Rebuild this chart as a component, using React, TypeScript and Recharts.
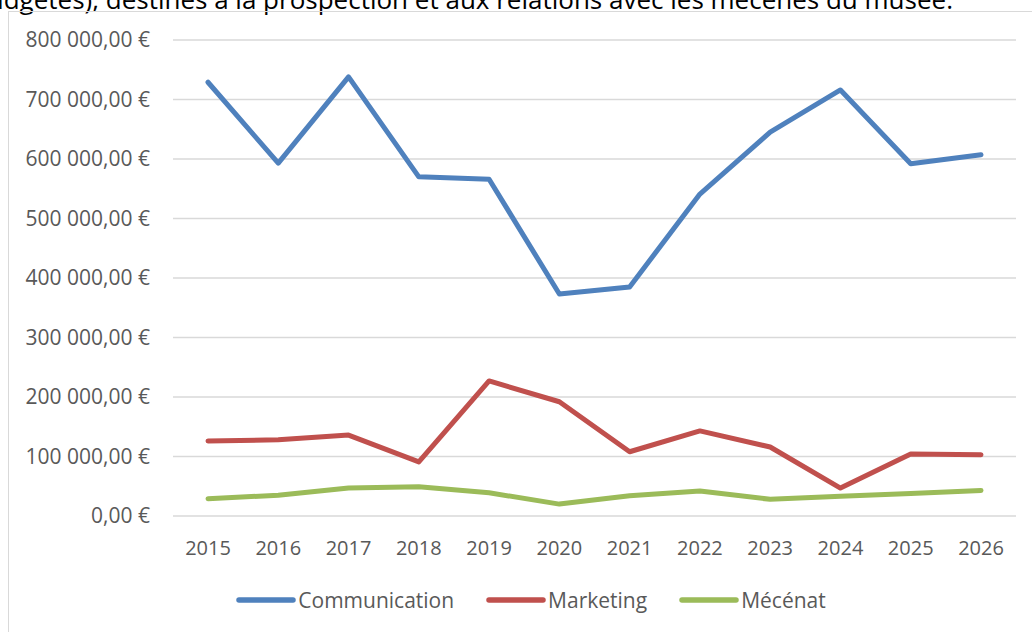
import React from "react";
import { LineChart, Line, XAxis, YAxis, CartesianGrid, Legend } from "recharts";

const years = ["2015", "2016", "2017", "2018", "2019", "2020", "2021", "2022", "2023", "2024", "2025", "2026"];
const communication = [729000, 593000, 738000, 570000, 566000, 373000, 385000, 541000, 645000, 716000, 592000, 607000];
const marketing = [126000, 128000, 136000, 91000, 227000, 192000, 108000, 143000, 116000, 47000, 104000, 103000];
const mecenat = [29000, 35000, 47000, 49000, 39000, 20000, 34000, 42000, 28000, 33000, 38000, 43000];
const yTicks = [0, 100000, 200000, 300000, 400000, 500000, 600000, 700000, 800000];

const series = [
    { key: "communication", name: "Communication", color: "#4F81BD" },
    { key: "marketing", name: "Marketing", color: "#C0504D" },
    { key: "mecenat", name: "Mécénat", color: "#9BBB59" },
];

const data = years.map((year, i) => ({
    year,
    communication: communication[i],
    marketing: marketing[i],
    mecenat: mecenat[i],
}));

const FONT = "'Open Sans', sans-serif";
const TEXT = "#595959";

const formatEuro = (v: number) => {
    const int = Math.round(v).toString().replace(/\B(?=(\d{3})+(?!\d))/g, " ");
    return `${int},00 €`;
};

const LegendContent = () => (
    <div style={{ display: "flex", justifyContent: "center", fontFamily: FONT, fontSize: 21, color: TEXT }}>
        {series.map((s) => (
            <div key={s.key} style={{ display: "flex", alignItems: "center", margin: "0 16px" }}>
                <svg width={60} height={10}>
                    <line x1={3} y1={5} x2={57} y2={5} stroke={s.color} strokeWidth={5.5} strokeLinecap="round" />
                </svg>
                <span style={{ marginLeft: 2 }}>{s.name}</span>
            </div>
        ))}
    </div>
);

export default function App() {
    return (
        <div style={{ position: "fixed", left: 0, top: 0, width: 1032, height: 632, overflow: "hidden", background: "#fff" }}>
            <div
                style={{
                    position: "absolute",
                    right: 79,
                    top: -14,
                    whiteSpace: "nowrap",
                    textAlign: "right",
                    fontFamily: FONT,
                    fontSize: 26,
                    lineHeight: "26px",
                    color: "#000",
                }}
            >
                budgetés), destinés à la prospection et aux relations avec les mécènes du musée.
            </div>
            <div
                style={{
                    position: "absolute",
                    left: 8,
                    top: 11,
                    width: 1040,
                    height: 640,
                    border: "1.5px solid #D9D9D9",
                    boxSizing: "border-box",
                }}
            />
            <div style={{ position: "absolute", left: 0, top: 0 }}>
                <LineChart width={1032} height={632} data={data} margin={{ top: 40, right: 16, left: 0, bottom: 48 }}>
                    <CartesianGrid vertical={false} stroke="#D9D9D9" strokeWidth={1.5} />
                    <XAxis
                        dataKey="year"
                        axisLine={false}
                        tickLine={false}
                        tickSize={0}
                        tickMargin={25}
                        height={40}
                        interval={0}
                        padding={{ left: 35, right: 35 }}
                        tick={{ fill: TEXT, fontSize: 20, fontFamily: FONT }}
                    />
                    <YAxis
                        width={173}
                        domain={[0, 800000]}
                        ticks={yTicks}
                        axisLine={false}
                        tickLine={false}
                        tickSize={0}
                        tickMargin={23}
                        tickFormatter={formatEuro}
                        tick={{ fill: TEXT, fontSize: 21, fontFamily: FONT }}
                    />
                    {series.map((s) => (
                        <Line
                            key={s.key}
                            dataKey={s.key}
                            name={s.name}
                            stroke={s.color}
                            strokeWidth={5}
                            strokeLinecap="round"
                            strokeLinejoin="round"
                            dot={false}
                            activeDot={false}
                            type="linear"
                            isAnimationActive={false}
                        />
                    ))}
                    <Legend
                        content={<LegendContent />}
                        wrapperStyle={{ position: "absolute", top: 586, left: 15, width: 1032 }}
                    />
                </LineChart>
            </div>
        </div>
    );
}
